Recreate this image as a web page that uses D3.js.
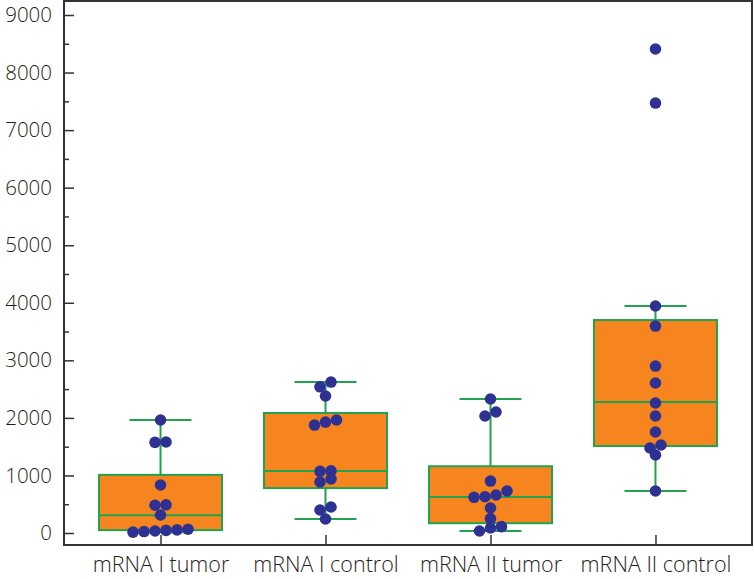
<!DOCTYPE html>
<html>
<head>
<meta charset="utf-8">
<script src="https://cdn.jsdelivr.net/npm/d3@7"></script>
<style>
  html, body { margin: 0; padding: 0; background: #fff; }
  svg text { font-family: "Open Sans", "Noto Sans", sans-serif; font-weight: 300; fill: #231f20; }
</style>
</head>
<body>
<div id="chart"></div>
<script>
// categories and values
const categories = ['mRNA I tumor', 'mRNA I control', 'mRNA II tumor', 'mRNA II control'];

const mrna1Tumor = [1963, 1581, 1575, 834, 490, 482, 313, 65, 55, 45, 35, 25, 15];
const mrna1Control = [2623, 2540, 2380, 1963, 1928, 1876, 1080, 1070, 940, 886, 452, 400, 243];
const mrna2Tumor = [2328, 2102, 2033, 903, 730, 660, 630, 620, 434, 250, 110, 87, 35];
const mrna2Control = [8409, 7470, 3944, 3596, 2901, 2606, 2259, 2033, 1755, 1529, 1477, 1355, 730];
const series = [mrna1Tumor, mrna1Control, mrna2Tumor, mrna2Control];

// box statistics per category
const whiskerLow = [15, 243, 35, 730];
const q1 = [50, 780, 170, 1510];
const median = [310, 1077, 625, 2276];
const q3 = [1010, 2085, 1160, 3700];
const whiskerHigh = [1963, 2623, 2328, 3944];

const yTicks = [0, 1000, 2000, 3000, 4000, 5000, 6000, 7000, 8000, 9000];
const yMinorTicks = [500, 1500, 2500, 3500, 4500, 5500, 6500, 7500, 8500];

const width = 754, height = 579;
const frame = { left: 64, top: 1, right: 752, bottom: 545 };

const svg = d3.select('#chart').append('svg')
  .attr('width', width)
  .attr('height', height);

const x = d3.scalePoint()
  .domain(categories)
  .range([frame.left, frame.right])
  .padding(0.585);

const y = d3.scaleLinear()
  .domain([0, 9000])
  .range([533, 15]);

const boxHalf = 61.5, capHalf = 31, r = 5.8, dotStep = 11;
const orange = '#f6851f', green = '#22a24f', navy = '#2e3192';

// boxes and whiskers
const boxes = svg.append('g');
categories.forEach((c, i) => {
  const cx = x(c);
  const g = boxes.append('g');
  g.append('line')
    .attr('x1', cx).attr('x2', cx)
    .attr('y1', y(whiskerHigh[i])).attr('y2', y(whiskerLow[i]))
    .attr('stroke', green).attr('stroke-width', 2);
  [whiskerLow[i], whiskerHigh[i]].forEach(v => {
    g.append('line')
      .attr('x1', cx - capHalf).attr('x2', cx + capHalf)
      .attr('y1', y(v)).attr('y2', y(v))
      .attr('stroke', green).attr('stroke-width', 2);
  });
  g.append('rect')
    .attr('x', cx - boxHalf)
    .attr('y', y(q3[i]))
    .attr('width', boxHalf * 2)
    .attr('height', y(q1[i]) - y(q3[i]))
    .attr('fill', orange)
    .attr('stroke', green)
    .attr('stroke-width', 2);
  g.append('line')
    .attr('x1', cx - boxHalf).attr('x2', cx + boxHalf)
    .attr('y1', y(median[i])).attr('y2', y(median[i]))
    .attr('stroke', green).attr('stroke-width', 2);
});

// dot layout: group points that sit close vertically, spread each group centred
function layoutDots(values) {
  const sorted = values.slice().sort((a, b) => b - a);
  const groups = [];
  let current = null;
  sorted.forEach(v => {
    if (current && y(v) - y(current[0]) < 7) current.push(v);
    else { current = [v]; groups.push(current); }
  });
  const out = [];
  groups.forEach(gr => {
    const asc = gr.slice().sort((a, b) => a - b);
    asc.forEach((v, k) => out.push({ v, dx: (k - (asc.length - 1) / 2) * dotStep }));
  });
  return out;
}

const dots = svg.append('g');
categories.forEach((c, i) => {
  dots.selectAll(null)
    .data(layoutDots(series[i]))
    .enter()
    .append('circle')
    .attr('cx', d => x(c) + d.dx)
    .attr('cy', d => y(d.v))
    .attr('r', r)
    .attr('fill', navy);
});

// axes
const yAxis = svg.append('g')
  .attr('transform', `translate(${frame.left},0)`)
  .call(d3.axisLeft(y).tickValues(yTicks).tickSize(-10).tickPadding(12).tickFormat(d3.format('d')));
yAxis.select('.domain').remove();
yAxis.selectAll('line').attr('stroke', '#333').attr('stroke-width', 1.5);
yAxis.selectAll('text').style('font-size', '20.5px');

const yMinor = svg.append('g')
  .attr('transform', `translate(${frame.left},0)`)
  .call(d3.axisLeft(y).tickValues(yMinorTicks).tickSize(-5).tickFormat(''));
yMinor.select('.domain').remove();
yMinor.selectAll('line').attr('stroke', '#333').attr('stroke-width', 1.5);

const xAxis = svg.append('g')
  .attr('transform', `translate(0,${frame.bottom})`)
  .call(d3.axisBottom(x).tickSize(-10).tickPadding(12));
xAxis.select('.domain').remove();
xAxis.selectAll('line').attr('stroke', '#333').attr('stroke-width', 1.5);
xAxis.selectAll('text').style('font-size', '21.5px');

// frame
svg.append('rect')
  .attr('x', frame.left)
  .attr('y', frame.top)
  .attr('width', frame.right - frame.left)
  .attr('height', frame.bottom - frame.top)
  .attr('fill', 'none')
  .attr('stroke', '#333')
  .attr('stroke-width', 2);
</script>
</body>
</html>
